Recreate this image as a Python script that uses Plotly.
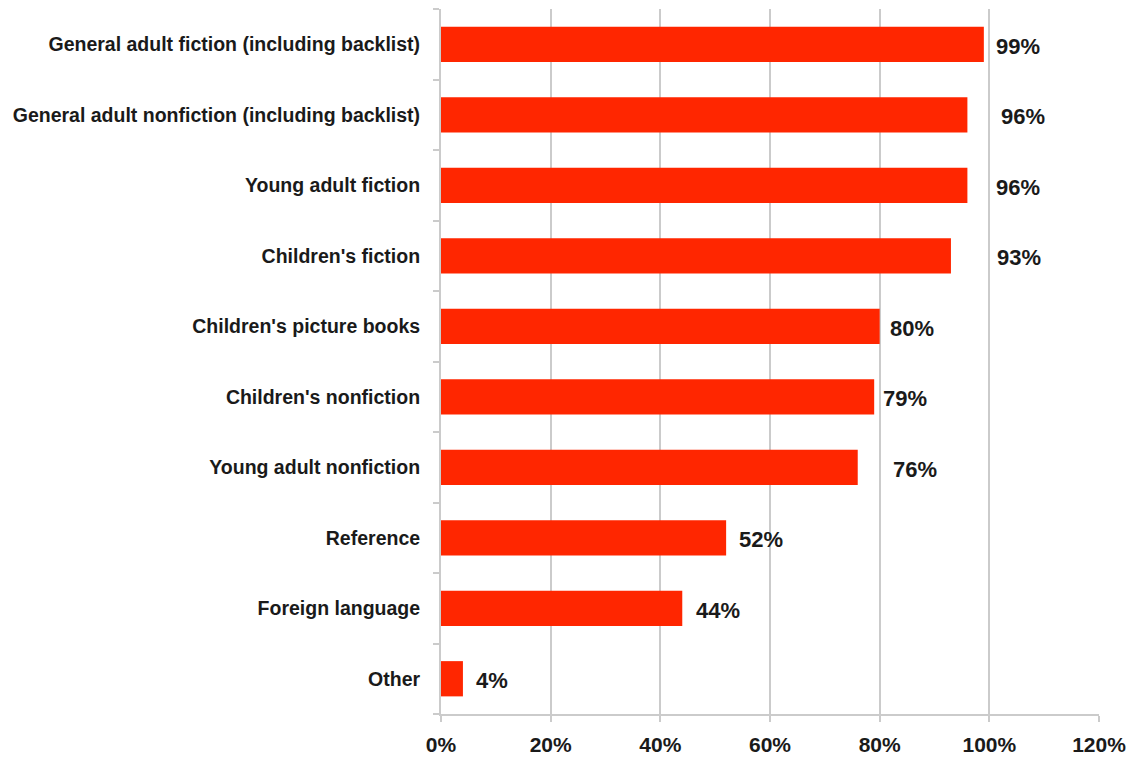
import plotly.graph_objects as go

# Share of respondents carrying each book category
categories = [
    "General adult fiction (including backlist)",
    "General adult nonfiction (including backlist)",
    "Young adult fiction",
    "Children's fiction",
    "Children's picture books",
    "Children's nonfiction",
    "Young adult nonfiction",
    "Reference",
    "Foreign language",
    "Other",
]
values = [99, 96, 96, 93, 80, 79, 76, 52, 44, 4]
value_labels = ["99%", "96%", "96%", "93%", "80%", "79%", "76%", "52%", "44%", "4%"]
tick_values = [0, 20, 40, 60, 80, 100, 120]
tick_labels = ["0%", "20%", "40%", "60%", "80%", "100%", "120%"]

# pixel gap between each bar end and its value label
label_gaps = [10, 32, 27, 44, 8, 7, 33, 11, 12, 11]

BAR = "#FF2600"
GRID = "#CBCBCB"
FONT = "Liberation Sans, Arial, sans-serif"

fig = go.Figure(
    go.Bar(
        x=values,
        y=categories,
        orientation="h",
        marker=dict(color=BAR, line=dict(width=0)),
        hoverinfo="skip",
    )
)

for cat, v, lab, gap in zip(categories, values, value_labels, label_gaps):
    fig.add_annotation(
        x=v, y=cat, text="<b>" + lab + "</b>", showarrow=False,
        xanchor="left", yanchor="middle", xshift=gap, yshift=-2,
        font=dict(family=FONT, size=22, color="#1a1a1a"),
    )

fig.update_layout(
    width=1135, height=757,
    margin=dict(l=441, r=36, t=9, b=43, autoexpand=False),
    plot_bgcolor="white", paper_bgcolor="white",
    bargap=0.5,
    showlegend=False,
    xaxis=dict(
        range=[0, 120], tickvals=tick_values, ticktext=["<b>" + t + "</b>" for t in tick_labels],
        showgrid=True, gridcolor=GRID, gridwidth=2,
        showline=True, linecolor=GRID, linewidth=2,
        ticks="outside", ticklen=6, tickcolor=GRID, tickwidth=2,
        tickfont=dict(family=FONT, size=21, color="#1a1a1a"),
        ticklabelstandoff=5, automargin=False,
        zeroline=False, fixedrange=True,
    ),
    yaxis=dict(
        autorange="reversed",
        tickmode="array", tickvals=categories,
        ticktext=["<b>" + c + "</b>" for c in categories],
        tickson="boundaries",
        showline=True, linecolor=GRID, linewidth=2,
        ticks="outside", ticklen=6, tickcolor=GRID, tickwidth=2,
        tickfont=dict(family=FONT, size=19.5, color="#1a1a1a"),
        ticklabelstandoff=15, automargin=False,
        showgrid=False, zeroline=False, fixedrange=True,
    ),
)

fig.write_html("out.html")
